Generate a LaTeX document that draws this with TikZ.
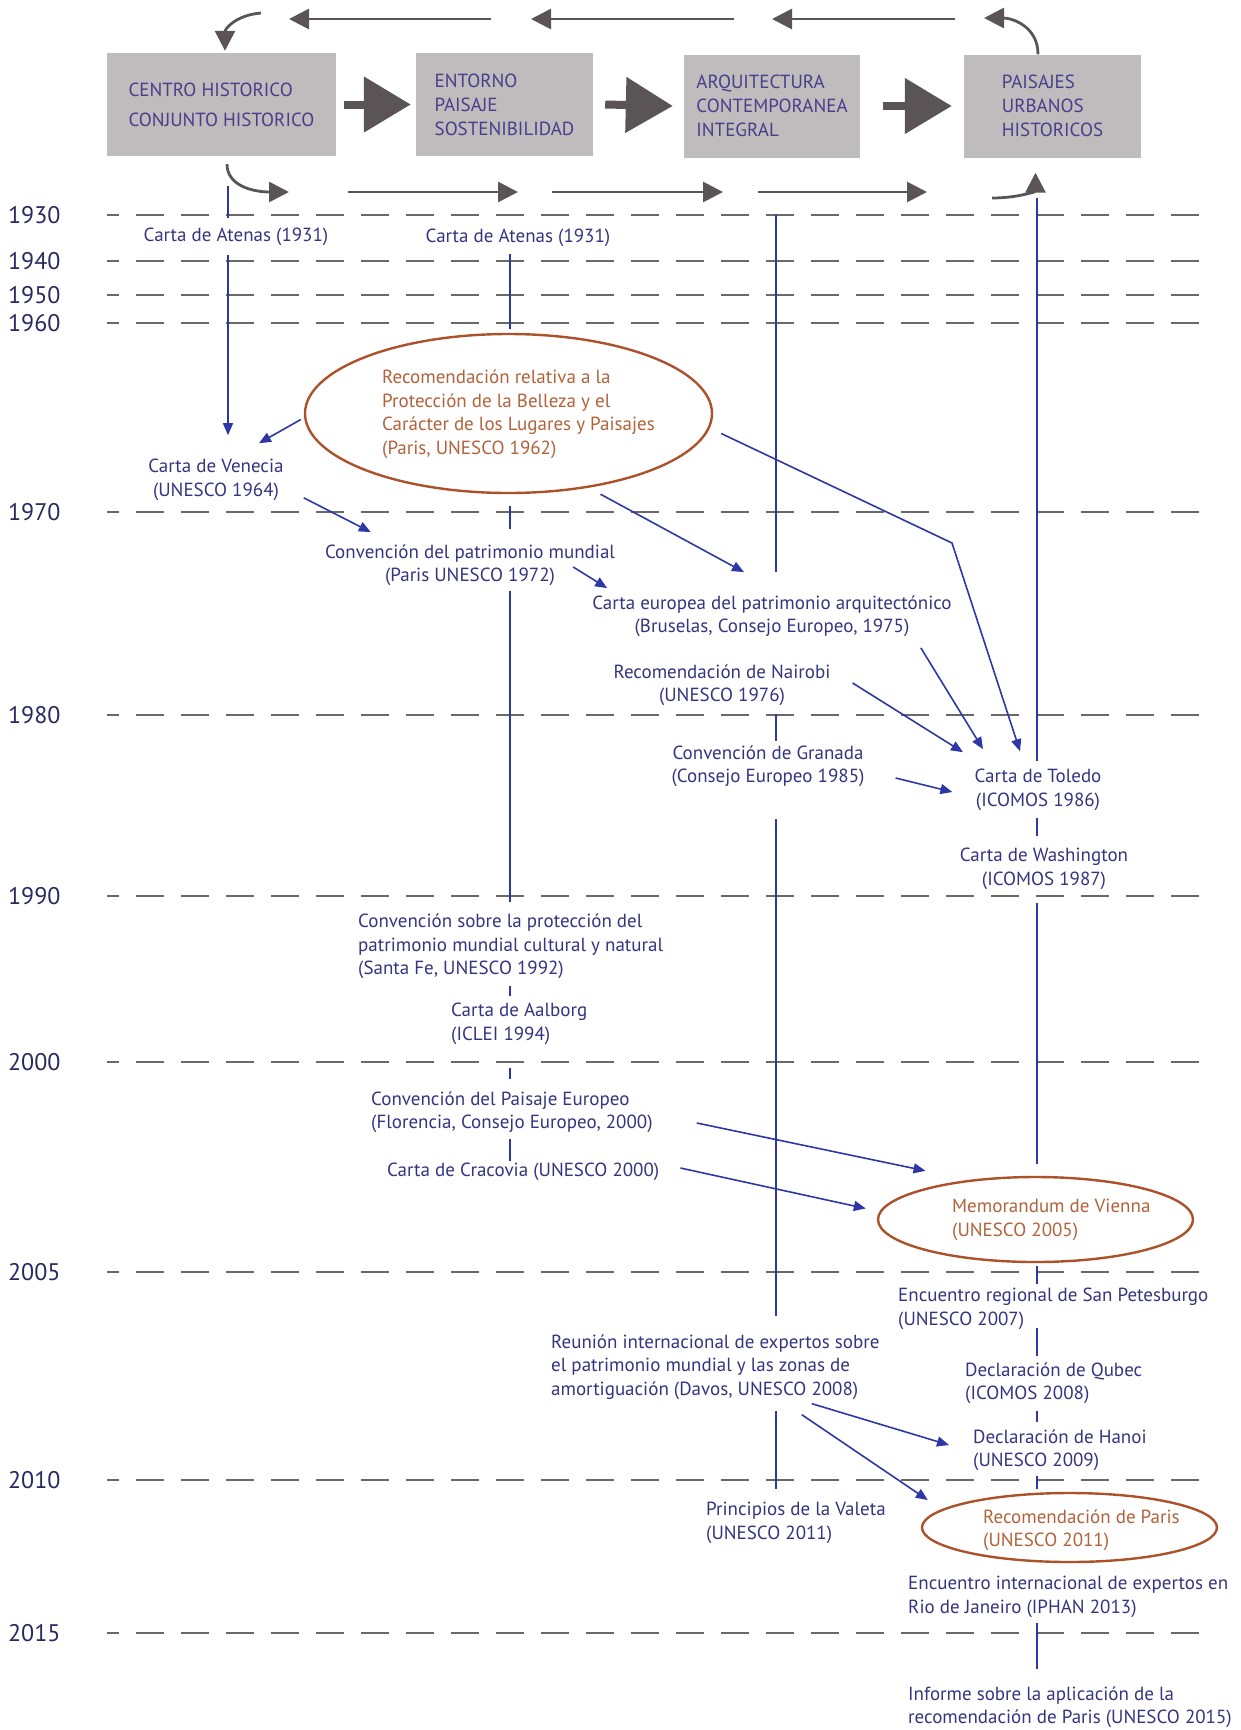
\documentclass[tikz,border=0pt]{standalone}
\usepackage{fontspec}
\setmainfont{PT Sans}
\usetikzlibrary{arrows.meta, positioning, shapes, calc}

\definecolor{tinta}{RGB}{52,52,128}
\definecolor{aniocol}{RGB}{38,42,95}
\definecolor{linea}{RGB}{45,55,165}
\definecolor{gris}{RGB}{90,84,86}
\definecolor{grisclaro}{RGB}{190,188,188}
\definecolor{trazo}{RGB}{105,105,105}
\definecolor{oxido}{RGB}{172,82,42}
\definecolor{oxidotxt}{RGB}{178,98,58}
\definecolor{cajatxt}{RGB}{72,62,140}

\tikzset{
  evento/.style={font=\fontsize{19}{23.5}\selectfont, text=tinta, inner sep=2pt, align=center},
  eventoL/.style={evento, align=left, anchor=west},
  concepto/.style={fill=grisclaro, font=\fontsize{19}{24}\selectfont, text=cajatxt, align=left, minimum height=103pt},
  hito/.style={ellipse, draw=oxido, line width=2.4pt, inner sep=0pt},
  hitotxt/.style={eventoL, text=oxidotxt},
  anio/.style={font=\fontsize{24}{24}\selectfont, text=aniocol, anchor=east},
  corte/.style={draw=trazo, line width=2.6pt, dash pattern=on 28pt off 17pt, dash phase=16pt},
  enlace/.style={draw=linea, line width=1.6pt},
  flecha/.style={enlace, -{Triangle[length=12pt,width=10pt]}},
  flujo/.style={draw=gris, line width=2.8pt, -{Triangle[length=20pt,width=20pt]}},
  avance/.style={draw=gris, line width=8pt, -{Triangle[length=47pt,width=54pt]}}
}

\begin{document}
\begin{tikzpicture}[x=1pt, y=-1pt]
  \useasboundingbox (0,0) rectangle (1240,1730);

  % Year grid
  \foreach \yr/\yy in {1930/215, 1940/261, 1950/295, 1960/323, 1970/512, 1980/715,
                       1990/896, 2000/1062, 2005/1272, 2010/1480, 2015/1633} {
    \node[anio] (y\yr) at (64,\yy) {\yr};
    \draw[corte] (107,\yy) -- (1203,\yy);
  }

  % Columns
  \coordinate (colA) at (228,0);
  \coordinate (colB) at (510,0);
  \coordinate (colC) at (776,0);
  \coordinate (colD) at (1037,0);

  % Concepts
  \node[concepto, minimum width=229pt] (box1) at (221.5,104.5) {CENTRO HISTORICO\\[6pt]CONJUNTO HISTORICO};
  \node[concepto, minimum width=177pt] (box2) at (504.5,104.5) {ENTORNO\\PAISAJE\\SOSTENIBILIDAD};
  \node[concepto, minimum width=176pt] (box3) at (772,106) {ARQUITECTURA\\CONTEMPORANEA\\INTEGRAL};
  \node[concepto, minimum width=177pt] (box4) at (1052.5,106) {PAISAJES\\URBANOS\\HISTORICOS};

  \draw[avance] ($(box1.east)+(8,0)$) -- ($(box2.west)+(-5,0)$);
  \draw[avance] ($(box2.east)+(12,0)$) -- ($(box3.west)+(-11,0)$);
  \draw[avance] ($(box3.east)+(23,0)$) -- ($(box4.west)+(-12,0)$);

  % Forward flow (below)
  \coordinate (ida1) at (289,192);
  \draw[flujo] ($(box1.south)+(5.5,8)$) .. controls +(0,22) and +(-35,0) .. (ida1);
  \foreach \n/\xa/\xb in {2/348/518, 3/552/723, 4/758/927} {
    \coordinate (idaA\n) at (\xa,192);
    \coordinate (idaB\n) at (\xb,192);
    \draw[flujo] (idaA\n) -- (idaB\n);
  }
  \coordinate (ida5) at (992,198);
  \draw[flujo] (ida5) .. controls +(28,0) and +(0,18) .. ($(box4.south)+(-17,15)$);

  % Backward flow (above)
  \coordinate (vuelta1) at (984,18);
  \draw[flujo] ($(box4.north)+(-14.5,0)$) .. controls +(0,-28) and +(28,0) .. (vuelta1);
  \foreach \n/\xa/\xb in {2/955/772, 3/734/531, 4/491/289} {
    \coordinate (vueltaA\n) at (\xa,19);
    \coordinate (vueltaB\n) at (\xb,19);
    \draw[flujo] (vueltaA\n) -- (vueltaB\n);
  }
  \coordinate (vuelta5) at (261,13);
  \draw[flujo] (vuelta5) .. controls +(-25,2) and +(0,-22) .. ($(box1.north)+(3.5,-2)$);

  % Documents
  \node[evento] (atenasA) at (236,237) {Carta de Atenas (1931)};
  \node[evento] (atenasB) at (518,238) {Carta de Atenas (1931)};
  \node[hito, minimum width=407pt, minimum height=159pt] (belleza) at (508.5,413.5) {};
  \node[hitotxt] (bellezaTxt) at (380,414) {Recomendación relativa a la\\Protección de la Belleza y el\\Carácter de los Lugares y Paisajes\\(Paris, UNESCO 1962)};
  \node[evento] (venecia) at (216,480) {Carta de Venecia\\(UNESCO 1964)};
  \node[evento] (convMundial) at (470,565) {Convención del patrimonio mundial\\(Paris UNESCO 1972)};
  \node[evento] (cartaEuropea) at (772,616) {Carta europea del patrimonio arquitectónico\\(Bruselas, Consejo Europeo, 1975)};
  \node[evento] (nairobi) at (722,685) {Recomendación de Nairobi\\(UNESCO 1976)};
  \node[evento] (granada) at (768,766) {Convención de Granada\\(Consejo Europeo 1985)};
  \node[evento] (toledo) at (1038,790) {Carta de Toledo\\(ICOMOS 1986)};
  \node[evento] (washington) at (1044,869) {Carta de Washington\\(ICOMOS 1987)};
  \node[eventoL] (santaFe) at (356,946.5) {Convención sobre la protección del\\patrimonio mundial cultural y natural\\(Santa Fe, UNESCO 1992)};
  \node[eventoL] (aalborg) at (449,1024) {Carta de Aalborg\\(ICLEI 1994)};
  \node[eventoL] (paisajeEu) at (369,1112) {Convención del Paisaje Europeo\\(Florencia, Consejo Europeo, 2000)};
  \node[eventoL] (cracovia) at (385,1172) {Carta de Cracovia (UNESCO 2000)};
  \node[hito, minimum width=315pt, minimum height=85pt] (vienna) at (1035.5,1219.5) {};
  \node[hitotxt] (viennaTxt) at (950,1220) {Memorandum de Vienna\\(UNESCO 2005)};
  \node[eventoL] (petesburgo) at (896,1309) {Encuentro regional de San Petesburgo\\(UNESCO 2007)};
  \node[eventoL] (davos) at (549,1367) {Reunión internacional de expertos sobre\\el patrimonio mundial y las zonas de\\amortiguación (Davos, UNESCO 2008)};
  \node[eventoL] (qubec) at (963,1383) {Declaración de Qubec\\(ICOMOS 2008)};
  \node[eventoL] (hanoi) at (971,1450) {Declaración de Hanoi\\(UNESCO 2009)};
  \node[eventoL] (valeta) at (704,1523) {Principios de la Valeta\\(UNESCO 2011)};
  \node[hito, minimum width=295pt, minimum height=69pt] (parisRec) at (1069.5,1527.5) {};
  \node[hitotxt] (parisTxt) at (981,1530) {Recomendación de Paris\\(UNESCO 2011)};
  \node[eventoL] (rio) at (906,1597) {Encuentro internacional de expertos en\\Rio de Janeiro (IPHAN 2013)};
  \node[eventoL] (informe) at (906,1707) {Informe sobre la aplicación de la\\recomendación de Paris (UNESCO 2015)};

  % Vertical links
  \draw[enlace, shorten <=30pt, shorten >=8pt] (box1.south -| colA) -- (atenasA.north -| colA);
  \draw[flecha, shorten <=7pt, shorten >=22pt] (atenasA.south -| colA) -- (venecia.north -| colA);
  \draw[enlace, shorten <=5pt, shorten >=4pt] (atenasB.south -| colB) -- (belleza.north -| colB);
  \draw[enlace, shorten <=12pt, shorten >=13pt] (belleza.south -| colB) -- (convMundial.north -| colB);
  \draw[enlace, shorten <=3pt, shorten >=10pt] (convMundial.south -| colB) -- (santaFe.north -| colB);
  \draw[enlace, shorten <=5pt, shorten >=5pt] (santaFe.south -| colB) -- (aalborg.north -| colB);
  \draw[enlace, shorten <=21pt, shorten >=10pt] (aalborg.south -| colB) -- (paisajeEu.north -| colB);
  \draw[enlace, shorten <=4pt] (paisajeEu.south -| colB) -- (cracovia.north -| colB);
  \draw[enlace, shorten <=57pt, shorten >=21pt] (box3.south -| colC) -- (cartaEuropea.north -| colC);
  \draw[enlace, shorten <=6pt, shorten >=2pt] (nairobi.south -| colC) -- (granada.north -| colC);
  \draw[enlace, shorten <=30pt, shorten >=16pt] (granada.south -| colC) -- (davos.north -| colC);
  \draw[enlace, shorten <=9pt, shorten >=11pt] (davos.south -| colC) -- (valeta.north -| colC);
  \draw[enlace, shorten <=40pt, shorten >=6pt] (box4.south -| colD) -- (toledo.north -| colD);
  \draw[enlace, shorten <=5pt, shorten >=10pt] (toledo.south -| colD) -- (washington.north -| colD);
  \draw[enlace, shorten <=11pt, shorten >=12pt] (washington.south -| colD) -- (vienna.north -| colD);
  \draw[enlace, shorten <=3pt, shorten >=2pt] (vienna.south -| colD) -- (petesburgo.north -| colD);
  \draw[enlace, shorten <=-4pt, shorten >=4pt] (petesburgo.south -| colD) -- (qubec.north -| colD);
  \draw[enlace, shorten <=5pt, shorten >=5pt] (qubec.south -| colD) -- (hanoi.north -| colD);
  \draw[enlace, shorten <=3pt, shorten >=3pt] (hanoi.south -| colD) -- (parisRec.north -| colD);
  \draw[enlace, shorten <=3pt, shorten >=15pt] (rio.south -| colD) -- (informe.north -| colD);

  % Influences
  \draw[flecha] ($(belleza.west)+(-3,6)$) -- ($(venecia.north)+(43,-14)$);
  \draw[flecha] ($(venecia.south east)+(18,-5)$) -- ($(convMundial.north west)+(48,-10)$);
  \draw[flecha] ($(convMundial.east)+(-44,2)$) -- ($(cartaEuropea.north west)+(17,-5)$);
  \draw[flecha] ($(belleza.south)+(92,0)$) -- ($(cartaEuropea.north)+(-28,-21)$);
  \coordinate (quiebre) at (952,543);
  \draw[flecha] ($(belleza.east)+(8,20)$) -- (quiebre) -- ($(toledo.north)+(-18,-16)$);
  \draw[flecha] ($(cartaEuropea.south east)+(-33,9)$) -- ($(toledo.north)+(-55,-18)$);
  \draw[flecha] ($(nairobi.east)+(20,-2)$) -- ($(toledo.north)+(-75,-15)$);
  \draw[flecha] ($(granada.east)+(29,12)$) -- ($(toledo.west)+(-20,2)$);
  \draw[flecha] ($(paisajeEu.east)+(42,11)$) -- ($(vienna.north)+(-110,-5)$);
  \draw[flecha] ($(cracovia.east)+(19,-4)$) -- ($(vienna.west)+(-11,-11)$);
  \draw[flecha] ($(davos.south east)+(-70,2)$) -- ($(hanoi.west)+(-22,-5)$);
  \draw[flecha] ($(davos.south east)+(-80,13)$) -- ($(parisRec.west)+(7,-27.5)$);
\end{tikzpicture}
\end{document}
